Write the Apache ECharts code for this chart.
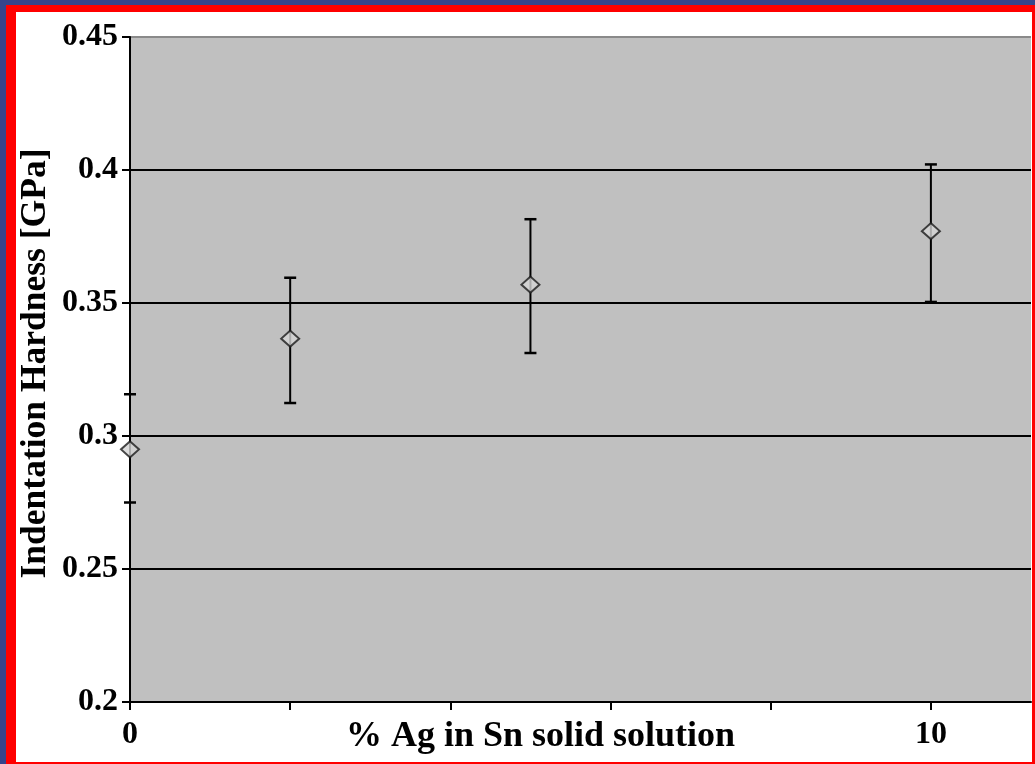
<!DOCTYPE html>
<html>
<head>
<meta charset="utf-8">
<script src="https://cdn.jsdelivr.net/npm/echarts@6/dist/echarts.min.js"></script>
<style>
  html, body { margin: 0; padding: 0; width: 1035px; height: 764px; overflow: hidden; background: #36448c; }
  #frame { position: absolute; left: 6px; top: 5px; width: 1029px; height: 759px; background: #ff0000; }
  #chart { position: absolute; left: 16px; top: 12px; width: 1016px; height: 750px; background: #ffffff; }
</style>
</head>
<body>
<div id="frame"></div>
<div id="chart"></div>
<script>
// Silver content (%) and measured indentation hardness (GPa) with error ranges
const silverPct = [0, 2, 5, 10];
const hardness = [0.295, 0.3366, 0.3569, 0.377];
const hardnessLow = [0.275, 0.3124, 0.3312, 0.3504];
const hardnessHigh = [0.3157, 0.3595, 0.3815, 0.4021];
// Labelled x ticks
const xLabelled = [0, 10];

const serif = '"Liberation Serif", "DejaVu Serif", serif';

const points = silverPct.map((x, i) => [x, hardness[i]]);
const ranges = silverPct.map((x, i) => [x, hardnessLow[i], hardnessHigh[i]]);

const chart = echarts.init(document.getElementById('chart'), null, { renderer: 'canvas' });

chart.setOption({
  animation: false,
  backgroundColor: '#ffffff',
  grid: {
    left: 114, right: 1, top: 25, bottom: 60,
    containLabel: false,
    outerBoundsMode: 'none',
    show: true, backgroundColor: '#c0c0c0', borderWidth: 0
  },
  xAxis: {
    type: 'value',
    min: 0, max: 11.25, interval: 2,
    name: '% Ag in Sn solid solution',
    nameLocation: 'middle',
    nameGap: 17,
    nameMoveOverlap: false,
    nameTextStyle: {
      fontFamily: serif, fontWeight: 'bold', fontSize: 36, color: '#000',
      padding: [0, 80, 0, 0], verticalAlign: 'top'
    },
    axisLine: { show: true, lineStyle: { color: '#000', width: 2 } },
    axisTick: { show: true, inside: false, length: 8, lineStyle: { color: '#000', width: 2 } },
    axisLabel: {
      margin: 17,
      fontFamily: serif, fontWeight: 'bold', fontSize: 32, color: '#000',
      showMaxLabel: false,
      formatter: v => (xLabelled.indexOf(v) >= 0 ? String(v) : '')
    },
    splitLine: { show: false }
  },
  yAxis: {
    type: 'value',
    min: 0.2, max: 0.45, interval: 0.05,
    name: 'Indentation Hardness [GPa]',
    nameLocation: 'middle',
    nameRotate: 90,
    nameGap: 76,
    nameMoveOverlap: false,
    nameTextStyle: {
      fontFamily: serif, fontWeight: 'bold', fontSize: 35.5, color: '#000',
      padding: [0, 0, 0, 12]
    },
    axisLine: { show: true, lineStyle: { color: '#000', width: 2 } },
    axisTick: { show: true, inside: false, length: 8, lineStyle: { color: '#000', width: 2 } },
    axisLabel: {
      margin: 12,
      fontFamily: serif, fontWeight: 'bold', fontSize: 32, color: '#000',
      formatter: v => String(+v.toFixed(2))
    },
    splitLine: {
      show: true,
      lineStyle: { color: ['#000', '#000', '#000', '#000', '#000', '#8a8a8a'], width: 2 }
    }
  },
  series: [
    {
      type: 'custom',
      name: 'range',
      clip: false,
      z: 3,
      data: ranges,
      encode: { x: 0, y: [1, 2] },
      renderItem(params, api) {
        const x = api.value(0);
        const top = api.coord([x, api.value(2)]);
        const bot = api.coord([x, api.value(1)]);
        const half = 6;
        const st = { stroke: '#000', lineWidth: 2 };
        const cap = { stroke: '#000', lineWidth: 2.5 };
        return {
          type: 'group',
          children: [
            { type: 'line', shape: { x1: top[0], y1: top[1], x2: bot[0], y2: bot[1] }, style: st },
            { type: 'line', shape: { x1: top[0] - half, y1: top[1], x2: top[0] + half, y2: top[1] }, style: cap },
            { type: 'line', shape: { x1: bot[0] - half, y1: bot[1], x2: bot[0] + half, y2: bot[1] }, style: cap }
          ]
        };
      }
    },
    {
      type: 'scatter',
      name: 'hardness',
      clip: false,
      z: 4,
      data: points,
      symbol: 'diamond',
      symbolSize: [18, 16],
      itemStyle: { color: '#d4d4d4', borderColor: '#1a1a1a', borderWidth: 2 }
    }
  ]
});
</script>
</body>
</html>
